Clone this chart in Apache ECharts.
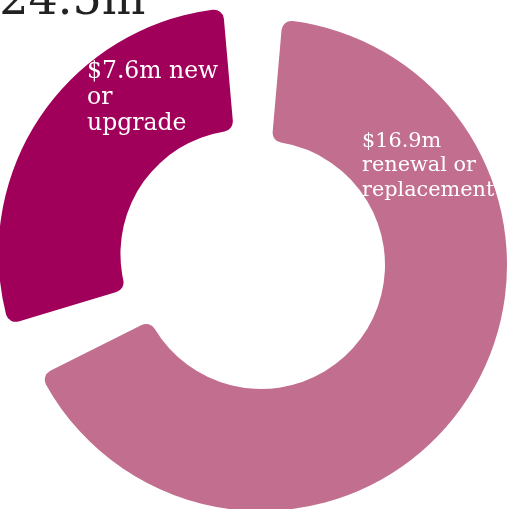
<!DOCTYPE html>
<html>
<head>
<meta charset="utf-8">
<script src="https://cdn.jsdelivr.net/npm/echarts@6/dist/echarts.min.js"></script>
<style>
  html, body { margin: 0; padding: 0; background: #ffffff; }
  #chart { width: 514px; height: 509px; }
</style>
</head>
<body>
<div id="chart"></div>
<script>
// Capital spend split, $m
const categories = ['renewal or\nreplacement', 'new\nor\nupgrade'];
const values = [16.9, 7.6];
// text placed between the amount and the category name
const amountJoin = ['\n', ' '];

const colors = ['#C26E8E', '#A0005A'];
const labelFont = [
  { fontSize: 20.8, lineHeight: 24.5 },
  { fontSize: 23.5, lineHeight: 26 }
];
const labelAnchors = [[362, 129], [87, 59]];

const total = values.reduce((a, b) => a + b, 0);
const totalText = '$' + total.toFixed(1) + 'm';

const seriesData = categories.map((name, i) => ({
  name: name,
  value: values[i],
  selected: i === 1,
  itemStyle: { color: colors[i] }
}));

// in-slice captions: amount followed by the category name
const captions = categories.map((name, i) => ({
  type: 'text',
  x: labelAnchors[i][0],
  y: labelAnchors[i][1],
  z: 100,
  style: {
    text: '$' + values[i] + 'm' + amountJoin[i] + name,
    fontFamily: 'DejaVu Serif',
    fontSize: labelFont[i].fontSize,
    lineHeight: labelFont[i].lineHeight,
    fill: '#ffffff',
    align: 'left',
    verticalAlign: 'top'
  }
}));

const chart = echarts.init(document.getElementById('chart'), null, { renderer: 'canvas' });
chart.setOption({
  animation: false,
  graphic: [{
    type: 'text',
    x: -30,
    y: -21,
    style: {
      text: totalText,
      font: '46px "DejaVu Serif"',
      fill: '#222222',
      verticalAlign: 'top'
    }
  }].concat(captions),
  series: [{
    type: 'pie',
    center: [261, 265],
    radius: [124, 246],
    startAngle: 90,
    clockwise: true,
    padAngle: 10,
    selectedMode: 'single',
    selectedOffset: 20,
    emphasis: { disabled: true },
    itemStyle: { borderRadius: 10, borderWidth: 0 },
    label: { show: false },
    labelLine: { show: false },
    data: seriesData
  }]
});
</script>
</body>
</html>
